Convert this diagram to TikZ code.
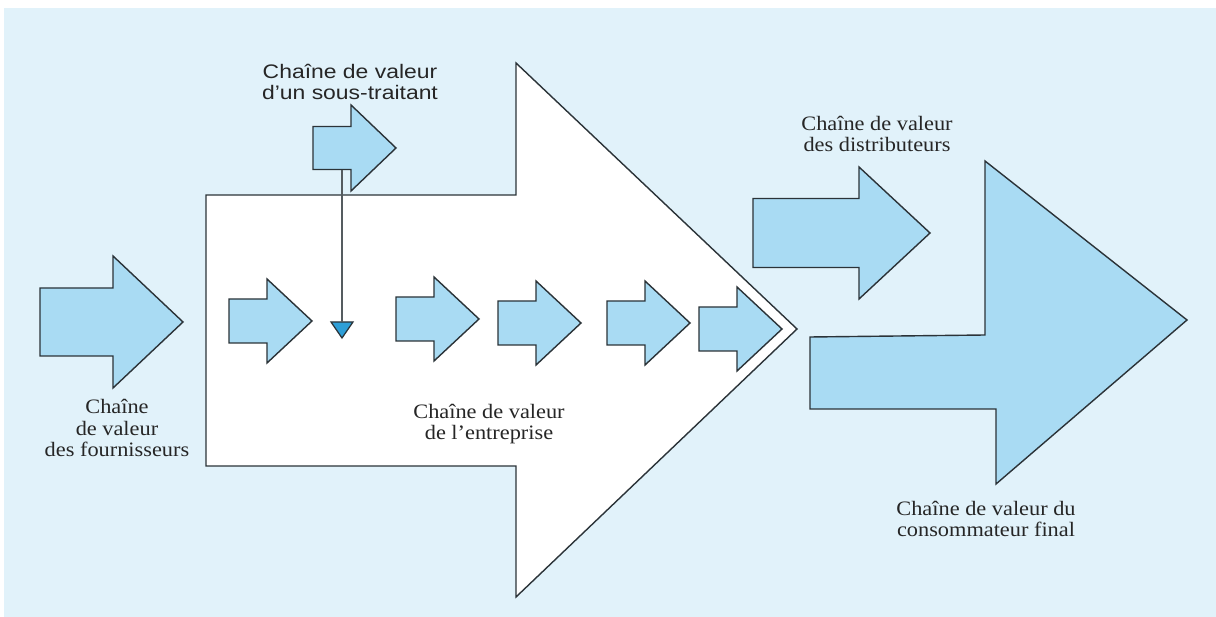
\documentclass[tikz,border=0pt]{standalone}
\usepackage{fontspec}
\setmainfont{Liberation Serif}
\newfontfamily\chainserif[FakeStretch=1.09]{Liberation Serif}
\newfontfamily\chainsans[FakeStretch=1.17]{Liberation Sans}
\usepackage{xcolor}
\usepackage{tikz}
\usetikzlibrary{positioning}

\definecolor{bgblue}{HTML}{E1F2FA}
\definecolor{arrowblue}{HTML}{A9DBF3}
\definecolor{tipblue}{HTML}{2E9FD8}
\definecolor{edgegray}{HTML}{2B3338}

% block arrow, tip at the pic origin: length/head length/shaft half/head half
\tikzset{
  pics/chainarrow/.style args={#1/#2/#3/#4}{code={
    \draw[arrowbody] (0,0) -- (-#2,-#4) -- (-#2,-#3) -- (-#1,-#3)
      -- (-#1,#3) -- (-#2,#3) -- (-#2,#4) -- cycle;
  }}
}

\begin{document}
\begin{tikzpicture}[x=0.02cm, y=-0.02cm,
  arrowbody/.style={draw=edgegray, fill=arrowblue, line width=0.8pt},
  serlabel/.style={font=\chainserif\fontsize{11.66}{12.23}\selectfont, align=center, inner sep=0pt, text=black!85},
  sanlabel/.style={font=\chainsans\fontsize{11.15}{11.95}\selectfont, align=center, inner sep=0pt, text=black!85},
  link/.style={draw=edgegray!80, line width=0.6pt}]
  \useasboundingbox (0,0) rectangle (1216,617);
  \fill[bgblue] (4,8) rectangle (1216,617);

  % value chain of the firm (big white arrow)
  \draw[draw=edgegray, fill=white, line width=0.8pt] (206,195) -- (516,195) -- (516,63)
    -- (797,329) -- (516,597) -- (516,466) -- (206,466) -- cycle;

  % suppliers, subcontractor, distributors
  \pic at (183,322) {chainarrow=143/70/34/66};
  \pic at (396,148) {chainarrow=83/45/21.5/43};
  \pic at (930,233) {chainarrow=177/71/34.5/66};

  % activities inside the firm
  \foreach \tx/\ty in {312/321, 479/319, 581/323, 690/323, 782/329} {
    \pic at (\tx,\ty) {chainarrow=83/45/22/42};
  }

  % final consumer
  \draw[arrowbody] (810,337) -- (985,335) -- (985,161) -- (1187,320)
    -- (996,484) -- (996,409) -- (810,409) -- cycle;

  % subcontractor feeding in
  \coordinate (subfoot) at (342,170);
  \coordinate (tritop) at (342,322);
  \draw[draw=edgegray, fill=tipblue, line width=0.7pt] (331,322) -- (353,322) -- (342,338) -- cycle;
  \draw[link] (subfoot) -- (tritop);

  % labels
  \node[sanlabel] (lblsub) at (350,82) {Chaîne de valeur\\d’un sous-traitant};
  \node[serlabel] (lblfour) at (117,428) {Chaîne\\de valeur\\des fournisseurs};
  \node[serlabel] (lblfirm) at (489,424) {Chaîne de valeur\\de l’entreprise};
  \node[serlabel] (lbldist) at (877,134) {Chaîne de valeur\\des distributeurs};
  \node[serlabel] (lblcons) at (986,519) {Chaîne de valeur du\\consommateur final};
\end{tikzpicture}
\end{document}
